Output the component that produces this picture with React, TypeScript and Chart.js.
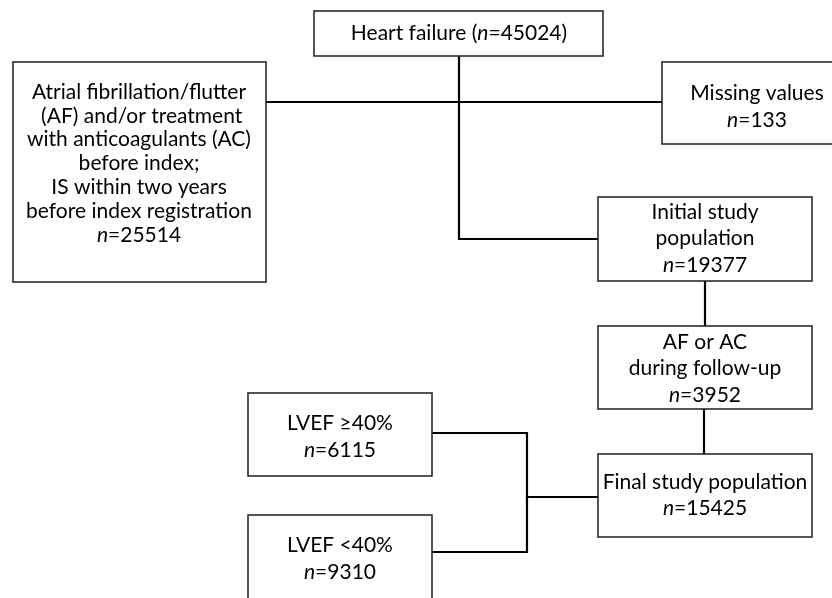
import React, { useEffect, useRef } from 'react';
import { Chart, registerables } from 'chart.js';
Chart.register(...registerables);

// Flowchart content (data space = 832 x 598, y downward)
const boxLabels: string[][] = [
  ['Heart failure (n=45024)'],
  ['Atrial fibrillation/flutter', ' (AF) and/or treatment', 'with anticoagulants (AC)', 'before index;', 'IS within two years', 'before index registration', 'n=25514'],
  ['Missing values', 'n=133'],
  ['Initial study', 'population', 'n=19377'],
  ['AF or AC', 'during follow-up', 'n=3952'],
  ['Final study population', 'n=15425'],
  ['LVEF \u226540%', 'n=6115'],
  ['LVEF <40%', 'n=9310'],
];
const boxLeft = [314, 13, 662, 598, 598, 598, 248, 248];
const boxRight = [603, 266, 845, 812, 812, 812, 432, 432];
const boxTop = [11, 62, 62, 197, 326, 454, 393, 515];
const boxBottom = [56, 282, 144, 281, 409, 537, 476, 615];
const textCenterX = [459, 139, 757, 705, 705, 705, 340, 340];
const firstLineY = [33, 92, 93, 212, 342, 482, 423, 545];
const lastLineY = [33, 235, 120, 265, 395, 508, 450, 572];

const connectorA = [{ x: 459, y: 56 }, { x: 459, y: 239 }, { x: 598, y: 239 }];
const connectorB = [{ x: 266, y: 102 }, { x: 662, y: 102 }];
const connectorC = [{ x: 705, y: 281 }, { x: 705, y: 326 }];
const connectorD = [{ x: 704, y: 409 }, { x: 704, y: 454 }];
const connectorE = [{ x: 432, y: 433 }, { x: 527, y: 433 }, { x: 527, y: 552 }, { x: 432, y: 552 }];
const connectorF = [{ x: 527, y: 497 }, { x: 598, y: 497 }];

const FONT_FAMILY = 'Lato, "Noto Sans", sans-serif';
const FONT_SIZE = 21;

function drawRichLine(ctx: CanvasRenderingContext2D, text: string, cx: number, cy: number) {
  // an "n" directly followed by "=" is italic
  const parts: { t: string; it: boolean }[] = [];
  const re = /n(?==)/g;
  let last = 0;
  let m: RegExpExecArray | null;
  while ((m = re.exec(text))) {
    if (m.index > last) parts.push({ t: text.slice(last, m.index), it: false });
    parts.push({ t: 'n', it: true });
    last = m.index + 1;
  }
  if (last < text.length) parts.push({ t: text.slice(last), it: false });
  const fontFor = (it: boolean) => `${it ? 'italic ' : ''}${FONT_SIZE}px ${FONT_FAMILY}`;
  let total = 0;
  const widths = parts.map((p) => {
    ctx.font = fontFor(p.it);
    const w = ctx.measureText(p.t).width;
    total += w;
    return w;
  });
  let x = cx - total / 2;
  ctx.textAlign = 'left';
  ctx.textBaseline = 'middle';
  parts.forEach((p, i) => {
    ctx.font = fontFor(p.it);
    ctx.fillText(p.t, x, cy);
    x += widths[i];
  });
}

const boxPlugin = {
  id: 'flowBoxes',
  beforeDraw(chart: any) {
    const ctx = chart.ctx;
    ctx.save();
    ctx.fillStyle = '#ffffff';
    ctx.fillRect(0, 0, chart.width, chart.height);
    ctx.restore();
  },
  afterDatasetsDraw(chart: any) {
    const ctx: CanvasRenderingContext2D = chart.ctx;
    const xs = chart.scales.x;
    const ys = chart.scales.y;
    ctx.save();
    boxLabels.forEach((lines, i) => {
      const x1 = xs.getPixelForValue(boxLeft[i]);
      const x2 = xs.getPixelForValue(boxRight[i]);
      const y1 = ys.getPixelForValue(boxTop[i]);
      const y2 = ys.getPixelForValue(boxBottom[i]);
      ctx.fillStyle = '#ffffff';
      ctx.fillRect(x1, y1, x2 - x1, y2 - y1);
      ctx.strokeStyle = '#2b2b2b';
      ctx.lineWidth = 1.6;
      ctx.strokeRect(x1, y1, x2 - x1, y2 - y1);
      ctx.fillStyle = '#000000';
      const cx = xs.getPixelForValue(textCenterX[i]);
      const n = lines.length;
      lines.forEach((ln, j) => {
        const vy = n > 1 ? firstLineY[i] + ((lastLineY[i] - firstLineY[i]) * j) / (n - 1) : firstLineY[i];
        drawRichLine(ctx, ln, cx, ys.getPixelForValue(vy));
      });
    });
    ctx.restore();
  },
};

export default function App() {
  const ref = useRef<HTMLCanvasElement>(null);
  useEffect(() => {
    if (!ref.current) return;
    const mk = (data: { x: number; y: number }[]) => ({
      data,
      showLine: true,
      borderColor: '#000000',
      borderWidth: 2.2,
      pointRadius: 0,
      fill: false,
      tension: 0,
      borderCapStyle: 'square' as const,
    });
    const chart = new Chart(ref.current, {
      type: 'scatter',
      data: {
        datasets: [mk(connectorA), mk(connectorB), mk(connectorC), mk(connectorD), mk(connectorE), mk(connectorF)],
      },
      options: {
        animation: false,
        responsive: false,
        layout: { padding: 0 },
        plugins: { legend: { display: false }, tooltip: { enabled: false } },
        scales: {
          x: { type: 'linear', min: 0, max: 832, display: false },
          y: { type: 'linear', min: 0, max: 598, reverse: true, display: false },
        },
      },
      plugins: [boxPlugin],
    });
    return () => chart.destroy();
  }, []);
  return (
    <div style={{ position: 'fixed', left: 0, top: 0, width: 832, height: 598, background: '#fff' }}>
      <canvas ref={ref} width={832} height={598} />
    </div>
  );
}
